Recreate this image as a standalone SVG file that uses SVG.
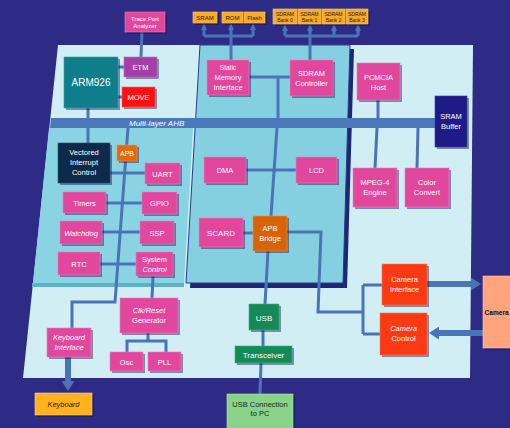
<svg xmlns="http://www.w3.org/2000/svg" width="510" height="428" viewBox="0 0 510 428">
<defs>
<style>
.t{font-family:"Liberation Sans",Arial,sans-serif;font-size:7.5px;fill:#fff;text-anchor:middle}
.d{fill:#2a2010}
.i{font-style:italic}
.sh{fill:#141450;opacity:.45}
.pk{fill:#E0479D;stroke:#F27CC0;stroke-width:.6}
.or{fill:#F7A928;stroke:#FFD070;stroke-width:.6}
.rd{fill:#FA3A12;stroke:#FF7A50;stroke-width:.6}
.gr{fill:#148A58;stroke:#40B080;stroke-width:.6}
.c{fill:none;stroke:#4A74B6;stroke-width:3;stroke-linejoin:miter}
.ck{fill:none;stroke:#4A74B6;stroke-width:6}
</style>
<marker id="ah" markerUnits="userSpaceOnUse" markerWidth="7" markerHeight="6" viewBox="0 0 7 6" refX="1" refY="3" orient="auto">
<path d="M0,0 L7,3 L0,6 z" fill="#4A74B6"/>
</marker>
<marker id="bh" markerUnits="userSpaceOnUse" markerWidth="10" markerHeight="13" viewBox="0 0 10 13" refX="1" refY="6.5" orient="auto">
<path d="M0,0 L10,6.5 L0,13 z" fill="#4A74B6"/>
</marker>
</defs>
<rect width="510" height="428" fill="#2E2B87"/>
<g id="panels">
<polygon points="58,45 473,45 470,378 23,378" fill="#D0EEF4"/>
<polygon points="32,283 184,283 184,287 32,287" fill="#5FAFC6"/>
<polygon points="49,128 193,128 184,283 33,283" fill="#8AD3E2"/>
<polygon points="204,49 354,49 347,288 190,288" fill="#1E2676"/>
<polygon points="200,45 350,45 343,283 186,283" fill="#84D0E0" stroke="#2C3A8C" stroke-width="1"/>
<polygon points="51,118 437,118 437,128 50,128" fill="#4A78BA"/>
<text class="t i" x="129" y="126" style="text-anchor:start;font-size:8px">Multi-layer AHB</text>
</g>
<g id="connectors">
<path class="c" d="M142,32 L141,57"/>
<path class="c" d="M118,67 H124 M118,97 H122"/>
<path class="c" d="M88,108 V118 M88,128 V143"/>
<path class="c" d="M128,128 L115,302 H72 V328"/>
<path class="c" d="M110,173 H145 M106,203 H142 M102,232 H140 M100,264 H136"/>
<path class="c" d="M153,276 L152,298"/>
<path class="c" d="M148,333 V341 M127,352 V341 H166 V352"/>
<path class="ck" d="M68,357 V382" marker-end="url(#bh)"/>
<path class="c" d="M231,60 V36 M204,36 H253"/>
<path class="c" d="M204,36 V29" marker-end="url(#ah)"/>
<path class="c" d="M231,36 V29" marker-end="url(#ah)"/>
<path class="c" d="M253,36 V29" marker-end="url(#ah)"/>
<path class="c" d="M310,60 V36 M285,36 H358"/>
<path class="c" d="M285,36 V30" marker-end="url(#ah)"/>
<path class="c" d="M310,36 V30" marker-end="url(#ah)"/>
<path class="c" d="M334,36 V30" marker-end="url(#ah)"/>
<path class="c" d="M358,36 V30" marker-end="url(#ah)"/>
<path class="c" d="M249,77 H290 M278,77 V118"/>
<path class="c" d="M277,128 L271,216 M246,170 H296"/>
<path class="c" d="M243,233 H253"/>
<path class="c" d="M287,232 H321 L318,312 H363 M363,285 V334 M363,285 H382 M363,334 H380"/>
<path class="c" d="M268,251 L265,304 M263,330 V346 M261,363 L260,394"/>
<path class="c" d="M378,100 V118 M377,128 L375,168 M418,128 L417,168"/>
<path class="ck" d="M427,284 H472" marker-end="url(#bh)"/>
<path class="ck" d="M483,333 H438" marker-end="url(#bh)"/>
</g>
<g id="trace-port">
<rect class="sh" x="127" y="14" width="40" height="20"/>
<rect class="pk" x="125" y="12" width="40" height="20"/>
<text class="t" x="145" y="20.5" style="font-size:6px">Trace Port</text>
<text class="t" x="145" y="28" style="font-size:6px">Analyzer</text>
</g>
<g id="sram">
<rect class="sh" x="195" y="14" width="24" height="11"/>
<rect class="or" x="193" y="12" width="24" height="11"/>
<text class="t d" x="205" y="20" style="font-size:6px">SRAM</text>
</g>
<g id="rom">
<rect class="sh" x="224" y="14" width="21" height="11"/>
<rect class="or" x="222" y="12" width="21" height="11"/>
<text class="t d" x="232.5" y="20" style="font-size:6px">ROM</text>
</g>
<g id="flash">
<rect class="sh" x="246" y="14" width="21" height="11"/>
<rect class="or" x="244" y="12" width="21" height="11"/>
<text class="t d" x="254.5" y="20" style="font-size:6px">Flash</text>
</g>
<g id="bank0">
<rect class="sh" x="275" y="11" width="24" height="15"/>
<rect class="or" x="273" y="9" width="24" height="15"/>
<text class="t d" x="285" y="15.5" style="font-size:5px">SDRAM</text>
<text class="t d" x="285" y="21.5" style="font-size:5px">Bank 0</text>
</g>
<g id="bank1">
<rect class="sh" x="300" y="11" width="23" height="15"/>
<rect class="or" x="298" y="9" width="23" height="15"/>
<text class="t d" x="309.5" y="15.5" style="font-size:5px">SDRAM</text>
<text class="t d" x="309.5" y="21.5" style="font-size:5px">Bank 1</text>
</g>
<g id="bank2">
<rect class="sh" x="324" y="11" width="23" height="15"/>
<rect class="or" x="322" y="9" width="23" height="15"/>
<text class="t d" x="333.5" y="15.5" style="font-size:5px">SDRAM</text>
<text class="t d" x="333.5" y="21.5" style="font-size:5px">Bank 2</text>
</g>
<g id="bank3">
<rect class="sh" x="348" y="11" width="22" height="15"/>
<rect class="or" x="346" y="9" width="22" height="15"/>
<text class="t d" x="357" y="15.5" style="font-size:5px">SDRAM</text>
<text class="t d" x="357" y="21.5" style="font-size:5px">Bank 3</text>
</g>
<g id="arm926">
<rect class="sh" x="66" y="59" width="54" height="51"/>
<rect x="64" y="57" width="54" height="51" fill="#0F7E8B" stroke="#2FA0AC" stroke-width=".6"/>
<text class="t" x="91" y="86" style="font-size:10px">ARM926</text>
</g>
<g id="etm">
<rect class="sh" x="126" y="59" width="33" height="20"/>
<rect x="124" y="57" width="33" height="20" fill="#A33FA7" stroke="#C070C4" stroke-width=".6"/>
<text class="t" x="140.5" y="70">ETM</text>
</g>
<g id="move">
<rect class="sh" x="124" y="89" width="33" height="20"/>
<rect x="122" y="87" width="33" height="20" fill="#FF1010" stroke="#FF6060" stroke-width=".6"/>
<text class="t" x="138.5" y="100">MOVE</text>
</g>
<g id="static-memory">
<rect class="sh" x="209" y="62" width="42" height="35"/>
<rect class="pk" x="207" y="60" width="42" height="35"/>
<text class="t" x="228" y="70" style="font-size:6.5px">Static</text>
<text class="t" x="228" y="80">Memory</text>
<text class="t" x="228" y="90">Interface</text>
</g>
<g id="sdram-controller">
<rect class="sh" x="292" y="62" width="43" height="36"/>
<rect class="pk" x="290" y="60" width="43" height="36"/>
<text class="t" x="311.5" y="76">SDRAM</text>
<text class="t" x="311.5" y="86">Controller</text>
</g>
<g id="pcmcia">
<rect class="sh" x="359" y="65" width="43" height="37"/>
<rect class="pk" x="357" y="63" width="43" height="37"/>
<text class="t" x="378.5" y="80">PCMCIA</text>
<text class="t" x="378.5" y="90">Host</text>
</g>
<g id="sram-buffer">
<rect class="sh" x="437" y="98" width="32" height="51"/>
<rect x="435" y="96" width="32" height="51" fill="#1E1B86" stroke="#3A3AA8" stroke-width=".6"/>
<text class="t" x="451" y="119">SRAM</text>
<text class="t" x="451" y="129">Buffer</text>
</g>
<g id="vic">
<rect class="sh" x="60" y="145" width="52" height="40"/>
<rect x="58" y="143" width="52" height="40" fill="#0E2A4B" stroke="#2E4E70" stroke-width=".6"/>
<text class="t" x="84" y="155">Vectored</text>
<text class="t" x="84" y="165">Interrupt</text>
<text class="t" x="84" y="175">Control</text>
</g>
<g id="apb">
<rect class="sh" x="119" y="147" width="20" height="16"/>
<rect x="117" y="145" width="20" height="16" fill="#E26A0B" stroke="#F59A50" stroke-width=".6"/>
<text class="t" x="127" y="156" style="font-size:7px">APB</text>
</g>
<g id="uart">
<rect class="sh" x="147" y="165" width="35" height="21"/>
<rect class="pk" x="145" y="163" width="35" height="21"/>
<text class="t" x="162.5" y="176.5">UART</text>
</g>
<g id="timers">
<rect class="sh" x="65" y="194" width="43" height="21"/>
<rect class="pk" x="63" y="192" width="43" height="21"/>
<text class="t" x="84.5" y="205.5">Timers</text>
</g>
<g id="gpio">
<rect class="sh" x="144" y="194" width="35" height="22"/>
<rect class="pk" x="142" y="192" width="35" height="22"/>
<text class="t" x="159.5" y="205.5">GPIO</text>
</g>
<g id="watchdog">
<rect class="sh" x="62" y="223" width="42" height="23"/>
<rect class="pk" x="60" y="221" width="42" height="23"/>
<text class="t i" x="81" y="235.5">Watchdog</text>
</g>
<g id="ssp">
<rect class="sh" x="142" y="223" width="34" height="23"/>
<rect class="pk" x="140" y="221" width="34" height="23"/>
<text class="t" x="157" y="235.5">SSP</text>
</g>
<g id="rtc">
<rect class="sh" x="60" y="254" width="42" height="23"/>
<rect class="pk" x="58" y="252" width="42" height="23"/>
<text class="t" x="79" y="266.5">RTC</text>
</g>
<g id="system-control">
<rect class="sh" x="138" y="254" width="37" height="24"/>
<rect class="pk" x="136" y="252" width="37" height="24"/>
<text class="t" x="154.5" y="262">System</text>
<text class="t i" x="154.5" y="272">Control</text>
</g>
<g id="dma">
<rect class="sh" x="206" y="159" width="42" height="26"/>
<rect class="pk" x="204" y="157" width="42" height="26"/>
<text class="t" x="225" y="173">DMA</text>
</g>
<g id="lcd">
<rect class="sh" x="298" y="159" width="41" height="26"/>
<rect class="pk" x="296" y="157" width="41" height="26"/>
<text class="t" x="316.5" y="173">LCD</text>
</g>
<g id="mpeg4">
<rect class="sh" x="355" y="170" width="44" height="39"/>
<rect class="pk" x="353" y="168" width="44" height="39"/>
<text class="t" x="375" y="185">MPEG-4</text>
<text class="t" x="375" y="195">Engine</text>
</g>
<g id="color-convert">
<rect class="sh" x="407" y="170" width="44" height="39"/>
<rect class="pk" x="405" y="168" width="44" height="39"/>
<text class="t" x="427" y="185">Color</text>
<text class="t" x="427" y="195">Convert</text>
</g>
<g id="scard">
<rect class="sh" x="201" y="220" width="44" height="29"/>
<rect class="pk" x="199" y="218" width="44" height="29"/>
<text class="t" x="221" y="235.5" style="font-size:8px">SCARD</text>
</g>
<g id="apb-bridge">
<rect class="sh" x="255" y="218" width="34" height="35"/>
<rect x="253" y="216" width="34" height="35" fill="#D96408" stroke="#F09040" stroke-width=".6"/>
<text class="t" x="270" y="231">APB</text>
<text class="t" x="270" y="241">Bridge</text>
</g>
<g id="camera-interface">
<rect class="sh" x="384" y="266" width="45" height="41"/>
<rect class="rd" x="382" y="264" width="45" height="41"/>
<text class="t" x="404.5" y="282">Camera</text>
<text class="t" x="404.5" y="292">Interface</text>
</g>
<g id="camera-control">
<rect class="sh" x="382" y="315" width="47" height="42"/>
<rect class="rd" x="380" y="313" width="47" height="42"/>
<text class="t i" x="403.5" y="331">Camera</text>
<text class="t" x="403.5" y="341">Control</text>
</g>
<g id="camera">
<rect class="sh" x="485" y="278" width="40" height="72"/>
<rect x="483" y="276" width="40" height="72" fill="#FFA47C" stroke="#FFC8A8" stroke-width=".6"/>
<text class="t" x="484.5" y="315" style="text-anchor:start;fill:#111;font-weight:bold;font-size:6.6px">Camera</text>
</g>
<g id="clk-reset">
<rect class="sh" x="122" y="300" width="58" height="35"/>
<rect class="pk" x="120" y="298" width="58" height="35"/>
<text class="t i" x="149" y="313">Clk/Reset</text>
<text class="t" x="149" y="323">Generator</text>
</g>
<g id="keyboard-interface">
<rect class="sh" x="49" y="330" width="44" height="29"/>
<rect class="pk" x="47" y="328" width="44" height="29"/>
<text class="t i" x="69" y="340">Keyboard</text>
<text class="t i" x="69" y="350">Interface</text>
</g>
<g id="osc">
<rect class="sh" x="112" y="354" width="33" height="19"/>
<rect class="pk" x="110" y="352" width="33" height="19"/>
<text class="t" x="126.5" y="364.5">Osc</text>
</g>
<g id="pll">
<rect class="sh" x="150" y="354" width="33" height="19"/>
<rect class="pk" x="148" y="352" width="33" height="19"/>
<text class="t" x="164.5" y="364.5">PLL</text>
</g>
<g id="usb">
<rect class="sh" x="251" y="306" width="30" height="26"/>
<rect class="gr" x="249" y="304" width="30" height="26"/>
<text class="t" x="264" y="320.5" style="font-size:8px">USB</text>
</g>
<g id="transceiver">
<rect class="sh" x="237" y="348" width="57" height="17"/>
<rect class="gr" x="235" y="346" width="57" height="17"/>
<text class="t" x="263.5" y="357.5" style="font-size:8px">Transceiver</text>
</g>
<g id="usb-connection">
<rect class="sh" x="229" y="396" width="66" height="40"/>
<rect x="227" y="394" width="66" height="40" fill="#8AD28A" stroke="#B0E8B0" stroke-width=".6"/>
<text class="t" x="260" y="407" style="fill:#10301a">USB Connection</text>
<text class="t" x="260" y="416" style="fill:#10301a">to PC</text>
</g>
<g id="keyboard">
<rect class="sh" x="37" y="395" width="57" height="22"/>
<rect x="35" y="393" width="57" height="22" fill="#FFB21E" stroke="#FFD880" stroke-width=".6"/>
<text class="t i d" x="63.5" y="407">Keyboard</text>
</g>
</svg>
